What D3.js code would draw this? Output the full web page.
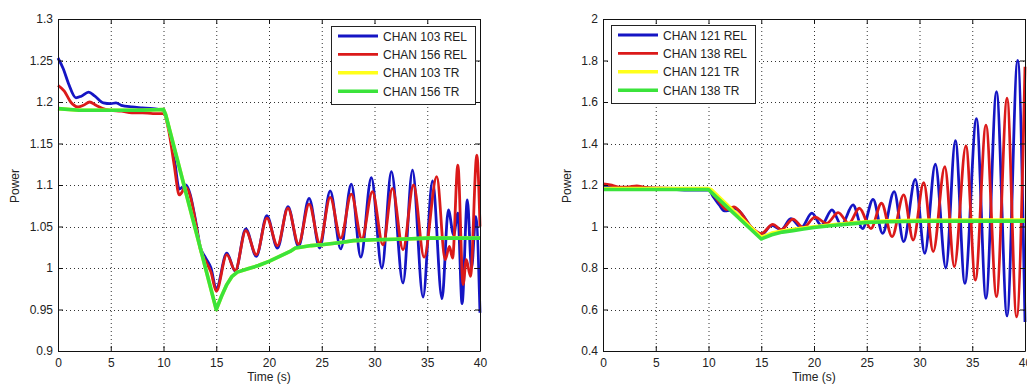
<!DOCTYPE html>
<html>
<head>
<meta charset="utf-8">
<script src="https://cdn.jsdelivr.net/npm/d3@7"></script>
<style>
  body { margin: 0; background: #fff; }
  svg { display: block; font-family: "Liberation Sans", Arial, sans-serif; }
</style>
</head>
<body>
<svg id="chart"></svg>
<script>
// time (s), power pairs
var left103Rel = [[0,1.253],[0.5,1.24],[1,1.222],[1.7,1.205],[2.2,1.207],[2.9,1.212],[3.5,1.207],[4.3,1.199],[5,1.198],[5.5,1.199],[6,1.196],[7,1.194],[8,1.193],[9,1.192],[10,1.19],[10.5,1.17],[11,1.135],[11.5,1.095],[12.1,1.1],[12.5,1.09],[13,1.06],[13.5,1.025],[14,1.012],[14.5,1.0],[15,0.975],[16,1.018],[16.8,0.996],[17.8,1.047],[18.8,1.014],[19.8,1.063],[20.8,1.024],[21.8,1.074],[22.8,1.026],[23.8,1.084],[24.8,1.024],[25.8,1.093],[26.8,1.023],[27.8,1.101],[28.7,1.013],[29.7,1.109],[30.7,1.0],[31.6,1.116],[32.7,0.982],[33.6,1.118],[34.6,0.965],[35.5,1.105],[36.4,0.963],[37.0,1.07],[37.5,1.04],[37.9,1.066],[38.3,0.957],[38.8,1.082],[39.2,1.0],[39.6,1.062],[40,0.946]];
var left156Rel = [[0,1.22],[0.6,1.213],[1.2,1.2],[1.9,1.194],[2.4,1.196],[3,1.2],[3.6,1.196],[4.5,1.191],[5,1.19],[6,1.189],[7,1.187],[8,1.187],[9,1.186],[10,1.186],[10.5,1.165],[11,1.125],[11.5,1.088],[12.1,1.097],[12.5,1.088],[13,1.058],[13.5,1.022],[14,1.008],[14.5,0.995],[15,0.972],[16,1.016],[16.8,0.997],[17.8,1.045],[18.8,1.016],[19.8,1.06],[20.8,1.027],[21.8,1.072],[22.8,1.029],[23.8,1.077],[24.8,1.03],[25.8,1.085],[26.8,1.036],[27.8,1.089],[28.8,1.035],[29.8,1.092],[30.8,1.028],[31.7,1.096],[32.7,1.022],[33.7,1.1],[34.7,1.013],[35.9,1.11],[36.7,1.01],[37.1,1.026],[37.4,1.012],[37.9,1.124],[38.4,0.98],[38.7,1.01],[39.1,0.99],[39.7,1.136],[40,1.05]];
var left103Tr = [[0,1.192],[2,1.19],[5,1.19],[8,1.19],[10,1.191],[10.2,1.185],[15,0.95],[15.5,0.966],[16,0.98],[16.5,0.99],[17,0.995],[18,0.999],[19,1.003],[20,1.008],[21,1.014],[22,1.02],[22.5,1.024],[23,1.025],[24,1.027],[25,1.028],[27,1.031],[28,1.033],[30,1.034],[33,1.035],[35,1.036],[40,1.036]];
var left156Tr = [[0,1.192],[2,1.19],[5,1.19],[8,1.19],[10,1.191],[10.2,1.185],[15,0.95],[15.5,0.966],[16,0.98],[16.5,0.99],[17,0.995],[18,0.999],[19,1.003],[20,1.008],[21,1.014],[22,1.02],[22.5,1.024],[23,1.025],[24,1.027],[25,1.028],[27,1.031],[28,1.033],[30,1.034],[33,1.035],[35,1.036],[40,1.036]];

var right121Rel = [[0,1.19],[1,1.188],[3,1.186],[5,1.184],[7,1.178],[8,1.175],[10,1.175],[10.5,1.14],[11,1.105],[11.5,1.075],[12,1.078],[12.6,1.085],[13,1.07],[14,1.0],[15,0.96],[16,1.005],[16.9,0.985],[17.8,1.038],[18.8,0.995],[19.8,1.064],[20.7,1.005],[21.7,1.08],[22.6,1.007],[23.7,1.104],[24.6,0.99],[25.6,1.131],[26.5,0.967],[27.6,1.168],[28.5,0.927],[29.6,1.227],[30.5,0.871],[31.5,1.3],[32.5,0.8],[33.4,1.414],[34.3,0.726],[35.4,1.52],[36.3,0.654],[37.3,1.65],[38.3,0.569],[39.3,1.8],[40,0.54]];
var right138Rel = [[0,1.205],[0.7,1.2],[1.5,1.19],[2.3,1.19],[3.2,1.196],[4,1.188],[5,1.186],[7,1.183],[9,1.18],[10,1.18],[10.5,1.15],[11,1.12],[11.7,1.082],[12.4,1.095],[13,1.07],[14,1.0],[15,0.966],[16.1,1.01],[16.9,0.985],[18,1.036],[19,0.995],[20.1,1.045],[21.2,1.015],[22.3,1.067],[23.3,1.015],[24.3,1.088],[25.4,0.99],[26.4,1.112],[27.4,0.951],[28.5,1.152],[29.4,0.935],[30.4,1.211],[31.3,0.879],[32.4,1.288],[33.3,0.806],[34.4,1.388],[35.3,0.742],[36.3,1.489],[37.3,0.662],[38.3,1.618],[39.2,0.565],[40,1.77]];
var right121Tr = [[0,1.183],[5,1.183],[10,1.183],[10.3,1.176],[15,0.948],[16,0.968],[17,0.978],[18,0.986],[20,0.999],[22,1.01],[24,1.019],[25,1.023],[27,1.027],[30,1.03],[35,1.031],[40,1.031]];
var right138Tr = [[0,1.178],[5,1.178],[10,1.178],[15,0.94],[16,0.96],[17,0.973],[18,0.98],[19,0.988],[20,0.995],[22,1.006],[24,1.015],[25,1.02],[27,1.023],[30,1.025],[35,1.026],[40,1.026]];

var xTicks = [0, 5, 10, 15, 20, 25, 30, 35, 40];
var leftYTicks = [0.9, 0.95, 1, 1.05, 1.1, 1.15, 1.2, 1.25, 1.3];
var rightYTicks = [0.4, 0.6, 0.8, 1, 1.2, 1.4, 1.6, 1.8, 2];
var leftLabels = ["CHAN 103 REL", "CHAN 156 REL", "CHAN 103 TR", "CHAN 156 TR"];
var rightLabels = ["CHAN 121 REL", "CHAN 138 REL", "CHAN 121 TR", "CHAN 138 TR"];
var colors = ["#1515c4", "#db1a1a", "#ffff1a", "#3be33b"];
var widths = [2.8, 2.8, 3.6, 3.6];

var W = 1027, H = 385;
var svg = d3.select("#chart").attr("width", W).attr("height", H);

function drawPanel(opt) {
  var x = d3.scaleLinear().domain([0, 40]).range([opt.x0, opt.x1]);
  var y = d3.scaleLinear().domain(opt.yDomain).range([351, 19]);
  var g = svg.append("g");
  var fmt = function(d) { return String(+d.toFixed(2)); };

  // dotted grid
  g.selectAll(".gx").data(opt.xt.slice(1, -1)).enter().append("line")
    .attr("x1", d => x(d) + 0.5).attr("x2", d => x(d) + 0.5)
    .attr("y1", 19).attr("y2", 351)
    .attr("stroke", "#333").attr("stroke-dasharray", "1,3");
  g.selectAll(".gy").data(opt.yt.slice(1, -1)).enter().append("line")
    .attr("y1", d => Math.round(y(d)) + 0.5).attr("y2", d => Math.round(y(d)) + 0.5)
    .attr("x1", opt.x0).attr("x2", opt.x1)
    .attr("stroke", "#333").attr("stroke-dasharray", "1,3");

  // series
  var line = d3.line().x(d => x(d[0])).y(d => y(d[1]));
  opt.series.forEach(function(s, i) {
    g.append("path").datum(s)
      .attr("fill", "none")
      .attr("stroke", colors[i])
      .attr("stroke-width", widths[i])
      .attr("stroke-linejoin", "round")
      .attr("d", line.curve(i < 2 ? d3.curveMonotoneX : d3.curveLinear));
  });

  // axes (ticks inward, box)
  var tl = 5;
  g.append("g").attr("transform", "translate(0,351)")
    .call(d3.axisBottom(x).tickValues(opt.xt).tickSizeInner(-tl).tickSizeOuter(0).tickPadding(7).tickFormat(fmt));
  g.append("g").attr("transform", "translate(0,19)")
    .call(d3.axisTop(x).tickValues(opt.xt).tickSizeInner(-tl).tickSizeOuter(0).tickFormat(""));
  g.append("g").attr("transform", "translate(" + opt.x0 + ",0)")
    .call(d3.axisLeft(y).tickValues(opt.yt).tickSizeInner(-tl).tickSizeOuter(0).tickPadding(5).tickFormat(fmt));
  g.append("g").attr("transform", "translate(" + opt.x1 + ",0)")
    .call(d3.axisRight(y).tickValues(opt.yt).tickSizeInner(-tl).tickSizeOuter(0).tickFormat(""));
  g.selectAll(".domain, .tick line").attr("stroke", "#111");
  g.selectAll(".tick text").attr("font-size", 12).attr("fill", "#222")
    .attr("font-family", "Liberation Sans, Arial, sans-serif");

  // axis titles
  g.append("text").attr("x", (opt.x0 + opt.x1) / 2).attr("y", 381)
    .attr("text-anchor", "middle").attr("font-size", 12).attr("fill", "#222").text("Time (s)");
  g.append("text").attr("transform", "translate(" + opt.ylx + ",186) rotate(-90)")
    .attr("text-anchor", "middle").attr("font-size", 12).attr("fill", "#222").text("Power");

  // legend
  var lg = g.append("g").attr("transform", "translate(" + opt.lx + "," + opt.ly + ")");
  lg.append("rect").attr("x", 0.5).attr("y", 0.5).attr("width", 144).attr("height", 78)
    .attr("fill", "#fff").attr("stroke", "#222");
  opt.labels.forEach(function(t, i) {
    var yy = 10 + i * 18.4;
    lg.append("line").attr("x1", 7).attr("x2", 47).attr("y1", yy).attr("y2", yy)
      .attr("stroke", colors[i]).attr("stroke-width", widths[i]);
    lg.append("text").attr("x", 52).attr("y", yy + 4.5).attr("font-size", 12)
      .attr("fill", "#222").text(t);
  });
}

drawPanel({ x0: 58, x1: 480, yDomain: [0.9, 1.3], xt: xTicks, yt: leftYTicks, ylx: 19,
  series: [left103Rel, left156Rel, left103Tr, left156Tr], labels: leftLabels, lx: 331, ly: 26 });
drawPanel({ x0: 603, x1: 1025, yDomain: [0.4, 2], xt: xTicks, yt: rightYTicks, ylx: 571,
  series: [right121Rel, right138Rel, right121Tr, right138Tr], labels: rightLabels, lx: 611, ly: 25 });
</script>
</body>
</html>
